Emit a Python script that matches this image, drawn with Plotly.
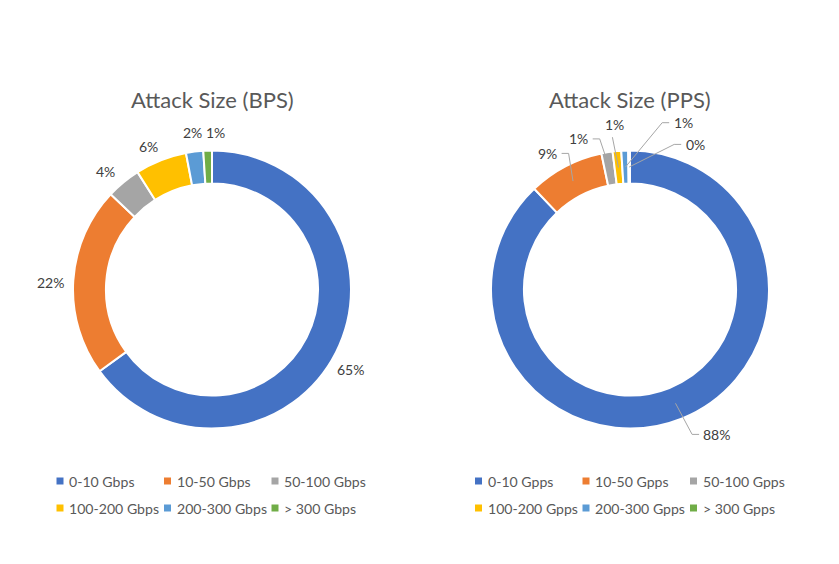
import math
import plotly.graph_objects as go

# ---------------- data ----------------
bps_labels = ["0-10 Gbps", "10-50 Gbps", "50-100 Gbps", "100-200 Gbps", "200-300 Gbps", "> 300 Gbps"]
bps_values = [65, 22, 4, 6, 2, 1]
pps_labels = ["0-10 Gpps", "10-50 Gpps", "50-100 Gpps", "100-200 Gpps", "200-300 Gpps", "> 300 Gpps"]
pps_values = [87.9, 8.8, 1.3, 1.0, 0.8, 0.2]
colors = ["#4472C4", "#ED7D31", "#A5A5A5", "#FFC000", "#5B9BD5", "#70AD47"]

# ---------------- layout / style ----------------
W, H = 839, 564
FONT = "Lato"
R = 139            # outer radius in px
HOLE = 0.763
ANCHOR_R = 122.5   # leader-line anchor radius (middle of ring)
LABEL_SIZE = 14
LEGEND_SIZE = 14.1
TITLE_SIZE = 22
COL_W, ROW_H = 107.5, 27

charts = [
    dict(title="Attack Size (BPS)", labels=bps_labels, values=bps_values,
         cx=212, cy=289.5, title_y=99,
         label_r=[160, 162, 159, 157, 158, 157],
         label_dtheta=[3, -1, -2.6, -2.4, 0, 2.9],
         leader=[None] * 6,
         legend_x=60, legend_y=481),
    dict(title="Attack Size (PPS)", labels=pps_labels, values=pps_values,
         cx=630, cy=289.5, title_y=99,
         label_r=[169, 159, 159, 166, 175, 159],
         label_dtheta=[-9.2, -3.4, -9.2, 0, 19.8, 24.5],
         leader=["side", "side", "side", "bottom", "side", "side"],
         legend_x=478.5, legend_y=481),
]

fig = go.Figure()
annotations = []
shapes = []

for ch in charts:
    cx, cy = ch["cx"], ch["cy"]
    vals = ch["values"]
    total = float(sum(vals))
    fig.add_trace(go.Pie(
        labels=ch["labels"], values=vals, hole=HOLE, sort=False,
        direction="clockwise", rotation=0, showlegend=False,
        marker=dict(colors=colors, line=dict(color="white", width=2)),
        textinfo="none", hoverinfo="label+percent",
        domain=dict(x=[(cx - R) / W, (cx + R) / W],
                    y=[1 - (cy + R) / H, 1 - (cy - R) / H]),
    ))
    # title
    annotations.append(dict(text=ch["title"], x=cx, y=ch["title_y"], xref="x", yref="y",
                            showarrow=False, xanchor="center", yanchor="middle",
                            font=dict(family=FONT, size=TITLE_SIZE, color="#595959")))
    # data labels + leader lines
    cum = 0.0
    for i, v in enumerate(vals):
        mid = (cum + v / 2) / total * 360.0
        cum += v
        txt = f"{round(100 * v / total)}%"
        th = math.radians(mid + ch["label_dtheta"][i])
        lr = ch["label_r"][i]
        lx = cx + lr * math.sin(th)
        ly = cy - lr * math.cos(th)
        annotations.append(dict(text=txt, x=lx, y=ly, xref="x", yref="y", showarrow=False,
                                xanchor="center", yanchor="middle", borderpad=0,
                                font=dict(family=FONT, size=LABEL_SIZE, color="#404040")))
        mode = ch["leader"][i]
        if mode:
            ax = cx + ANCHOR_R * math.sin(math.radians(mid))
            ay = cy - ANCHOR_R * math.cos(math.radians(mid))
            hw = (0.58 * (len(txt) - 1) + 0.82) * LABEL_SIZE / 2
            if mode == "side":
                if ax > lx:
                    px_, ex_ = lx + hw + 4, lx + hw + 11
                else:
                    px_, ex_ = lx - hw - 4, lx - hw - 11
                path = f"M {px_:.1f},{ly:.1f} L {ex_:.1f},{ly:.1f} L {ax:.1f},{ay:.1f}"
            else:
                path = f"M {lx - 2:.1f},{ly + 13:.1f} L {ax:.1f},{ay:.1f}"
            shapes.append(dict(type="path", path=path, xref="x", yref="y", layer="above",
                               line=dict(color="#A6A6A6", width=1)))
    # legend
    lxs = [ch["legend_x"] + (i % 3) * COL_W for i in range(len(vals))]
    lys = [ch["legend_y"] + (i // 3) * ROW_H for i in range(len(vals))]
    fig.add_trace(go.Scatter(x=lxs, y=lys, mode="markers", showlegend=False, hoverinfo="skip",
                             marker=dict(symbol="square", size=7, color=colors)))
    for i, lab in enumerate(ch["labels"]):
        annotations.append(dict(text=lab, x=lxs[i] + 8, y=lys[i], xref="x", yref="y",
                                showarrow=False, xanchor="left", yanchor="middle", borderpad=0,
                                font=dict(family=FONT, size=LEGEND_SIZE, color="#595959")))

fig.update_layout(
    width=W, height=H, margin=dict(l=0, r=0, t=0, b=0),
    paper_bgcolor="white", plot_bgcolor="rgba(0,0,0,0)",
    showlegend=False,
    xaxis=dict(range=[0, W], visible=False, fixedrange=True, domain=[0, 1]),
    yaxis=dict(range=[H, 0], visible=False, fixedrange=True, domain=[0, 1]),
    annotations=annotations, shapes=shapes,
    font=dict(family=FONT),
)

fig.write_html("out.html")
